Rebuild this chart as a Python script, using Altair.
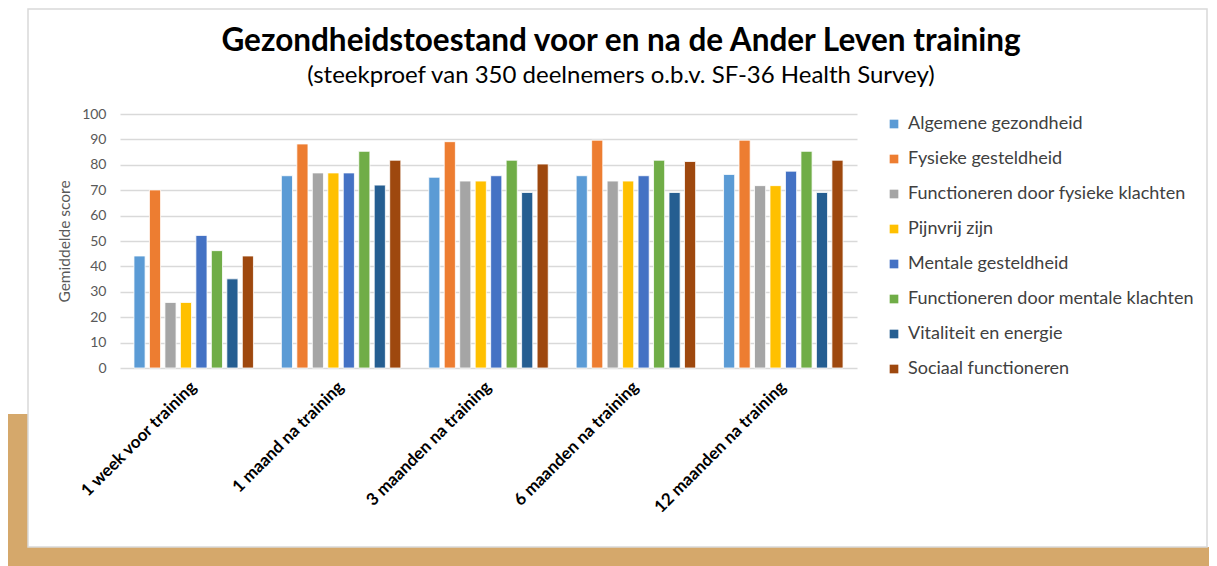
import altair as alt
import pandas as pd

periods = ["1 week voor training", "1 maand na training", "3 maanden na training",
           "6 maanden na training", "12 maanden na training"]
series = ["Algemene gezondheid", "Fysieke gesteldheid", "Functioneren door fysieke klachten",
          "Pijnvrij zijn", "Mentale gesteldheid", "Functioneren door mentale klachten",
          "Vitaliteit en energie", "Sociaal functioneren"]
algemene = [44.1, 75.7, 75.1, 75.7, 76.2]
fysieke = [70.1, 88.2, 89.1, 89.7, 89.7]
func_fys = [25.8, 76.8, 73.6, 73.6, 71.8]
pijnvrij = [25.8, 76.8, 73.6, 73.6, 71.8]
mentale = [52.2, 76.8, 75.7, 75.7, 77.5]
func_ment = [46.2, 85.3, 81.8, 81.8, 85.3]
vitaliteit = [35.1, 72.0, 69.1, 69.1, 69.1]
sociaal = [44.1, 81.8, 80.3, 81.3, 81.8]
colors = ["#5B9BD5", "#ED7D31", "#A5A5A5", "#FFC000", "#4472C4", "#70AD47", "#255E91", "#9E480E"]
y_ticks = [0, 10, 20, 30, 40, 50, 60, 70, 80, 90, 100]

title_text = "Gezondheidstoestand voor en na de Ander Leven training"
subtitle_text = "(steekproef van 350 deelnemers o.b.v. SF-36 Health Survey)"

all_series = [algemene, fysieke, func_fys, pijnvrij, mentale, func_ment, vitaliteit, sociaal]
rows = []
for s, vals in zip(series, all_series):
    for p, v in zip(periods, vals):
        rows.append({"periode": p, "reeks": s, "score": v})
df = pd.DataFrame(rows)

FONT = "Lato"

bars = alt.Chart(df).mark_bar(stroke="white", strokeWidth=0.8).encode(
    x=alt.X("periode:N", sort=periods,
            scale=alt.Scale(paddingInner=0.16, paddingOuter=0.08),
            axis=alt.Axis(title=None, labelAngle=-45, labelAlign="right", labelBaseline="middle",
                          labelFontWeight="bold", labelFontSize=17, labelColor="#000000",
                          labelFont=FONT, labelPadding=16, domain=False, ticks=False, grid=False)),
    xOffset=alt.XOffset("reeks:N", sort=series,
                        scale=alt.Scale(paddingInner=0.28, paddingOuter=0.14)),
    y=alt.Y("score:Q", scale=alt.Scale(domain=[0, 100], nice=False),
            axis=alt.Axis(title="Gemiddelde score", values=y_ticks, grid=True,
                          gridColor="#D9D9D9", gridWidth=1.5, domain=False, ticks=False,
                          labelFontSize=14, labelColor="#595959", labelFont=FONT, labelPadding=14,
                          titleFont=FONT, titleFontSize=15.5, titleFontWeight="normal",
                          titleColor="#595959", titlePadding=9)),
    color=alt.Color("reeks:N", sort=series,
                    scale=alt.Scale(domain=series, range=colors),
                    legend=alt.Legend(title=None, orient="none", legendX=765, legendY=1,
                                      symbolType="square", symbolSize=75, symbolStrokeWidth=0,
                                      labelFont=FONT, labelFontSize=18, labelColor="#404040",
                                      labelOffset=5, rowPadding=17, labelLimit=400)),
)

one = alt.Data(values=[{"k": 1}])

tan_left = alt.Chart(one).mark_rect(color="#D5A86B").encode(
    x=alt.value(-112), x2=alt.value(-92), y=alt.value(300), y2=alt.value(460))
tan_bottom = alt.Chart(one).mark_rect(color="#D5A86B").encode(
    x=alt.value(-112), x2=alt.value(1089), y=alt.value(433), y2=alt.value(460))
box = alt.Chart(one).mark_rect(fill=None, stroke="#D9D9D9", strokeWidth=1.5, fillOpacity=0).encode(
    x=alt.value(-92), x2=alt.value(1087), y=alt.value(-105), y2=alt.value(433))

title = alt.Chart(alt.Data(values=[{"t": title_text}])).mark_text(
    font=FONT, fontSize=31.5, fontWeight="bold", color="#000000", align="center", baseline="middle"
).encode(x=alt.value(501), y=alt.value(-72), text="t:N")
subtitle = alt.Chart(alt.Data(values=[{"t": subtitle_text}])).mark_text(
    font=FONT, fontSize=24, color="#000000", align="center", baseline="middle"
).encode(x=alt.value(501), y=alt.value(-38), text="t:N")

chart = alt.layer(tan_left, tan_bottom, box, bars, title, subtitle).properties(
    width=737, height=254,
    padding={"left": 112, "top": 106, "right": 352, "bottom": 198},
    autosize=alt.AutoSizeParams(type="none"),
    background="white",
).configure_view(stroke=None)

chart.save("out.html", embed_options={"renderer": "svg", "actions": False})
